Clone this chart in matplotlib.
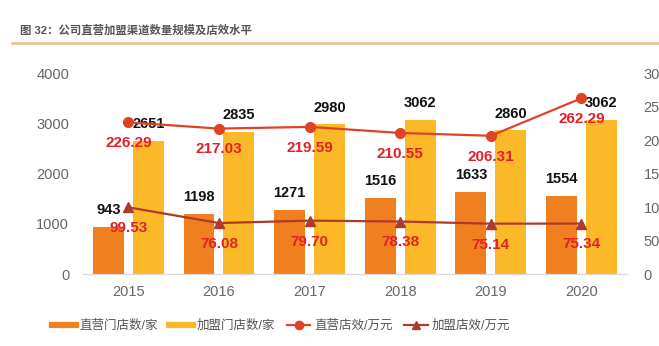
import matplotlib
matplotlib.use("Agg")
import matplotlib.pyplot as plt
import numpy as np
from matplotlib.lines import Line2D

plt.rcParams['font.family'] = ['Liberation Sans', 'Noto Sans CJK SC']

# 门店数量与店效
years = ["2015", "2016", "2017", "2018", "2019", "2020"]
direct_stores = [943, 1198, 1271, 1516, 1633, 1554]
franchise_stores = [2651, 2835, 2980, 3062, 2860, 3062]
direct_eff = [226.29, 217.03, 219.59, 210.55, 206.31, 262.29]
franchise_eff = [99.53, 76.08, 79.70, 78.38, 75.14, 75.34]

c_direct = '#F07F1F'
c_franchise = '#FBB828'
c_line1 = '#DE4326'
c_line2 = '#AE3A2C'
c_red_text = '#E3202A'
c_tick = '#666666'

fig = plt.figure(figsize=(6.59, 3.46), dpi=100)
ax = fig.add_axes([0.126, 0.208, 0.825, 0.581])
ax2 = ax.twinx()

x = np.arange(len(years))
w = 0.34
off = 0.22
ax.bar(x - off, direct_stores, w, color=c_direct, zorder=2)
ax.bar(x + off, franchise_stores, w, color=c_franchise, zorder=2)

for xi, v in zip(x, direct_stores):
    ax.annotate(str(v), (xi - off, v), xytext=(0, 7), textcoords='offset points',
                ha='center', va='bottom', fontsize=10.5, fontweight='bold', color='#111111')
for xi, v in zip(x, franchise_stores):
    ax.annotate(str(v), (xi + off, v), xytext=(0, 7), textcoords='offset points',
                ha='center', va='bottom', fontsize=10.5, fontweight='bold', color='#111111')

ax2.plot(x, direct_eff, color=c_line1, lw=1.6, marker='o', ms=7, zorder=3)
ax2.plot(x, franchise_eff, color=c_line2, lw=1.6, marker='^', ms=7, zorder=3)
for xi, v in zip(x, direct_eff):
    ax2.annotate(f"{v:.2f}", (xi, v), xytext=(0, -10), textcoords='offset points',
                 ha='center', va='top', fontsize=11, fontweight='bold', color=c_red_text)
for xi, v in zip(x, franchise_eff):
    ax2.annotate(f"{v:.2f}", (xi, v), xytext=(0, -10), textcoords='offset points',
                 ha='center', va='top', fontsize=11, fontweight='bold', color=c_red_text)

ax.set_xlim(-0.5, 5.5)
ax.set_ylim(0, 4000)
ax.set_yticks([0, 1000, 2000, 3000, 4000])
ax2.set_ylim(0, 300)
ax2.set_yticks([0, 50, 100, 150, 200, 250, 300])
ax.set_xticks(x)
ax.set_xticklabels(years)

for a in (ax, ax2):
    for s in ('top', 'left', 'right'):
        a.spines[s].set_visible(False)
    a.spines['bottom'].set_color('#D9D9D9')
    a.tick_params(length=0, labelsize=10.5, colors=c_tick)
ax.tick_params(axis='y', pad=10)
ax.tick_params(axis='x', pad=8)
ax2.tick_params(axis='y', pad=12)

# 标题与分隔线
fig.text(20 / 659, 1 - 30 / 346, "图 32：公司直营加盟渠道数量规模及店效水平",
         fontsize=8.2, fontweight='bold', color='#555555', va='center', ha='left')
fig.add_artist(Line2D([12 / 659, 1], [1 - 43 / 346, 1 - 43 / 346],
                      color='#E9BD8E', lw=1.8, transform=fig.transFigure))

handles = [
    Line2D([], [], color=c_direct, lw=4.5),
    Line2D([], [], color=c_franchise, lw=4.5),
    Line2D([], [], color=c_line1, lw=1.6, marker='o', ms=6),
    Line2D([], [], color=c_line2, lw=1.6, marker='^', ms=6),
]
labels = ["直营门店数/家", "加盟门店数/家", "直营店效/万元", "加盟店效/万元"]
fig.legend(handles, labels, loc='center', bbox_to_anchor=(281 / 659, 1 - 326 / 346),
           ncol=4, frameon=False, fontsize=9, handlelength=1.9, handletextpad=0.3,
           columnspacing=0.9, labelcolor='#555555')

fig.savefig("out.png", dpi=100)
